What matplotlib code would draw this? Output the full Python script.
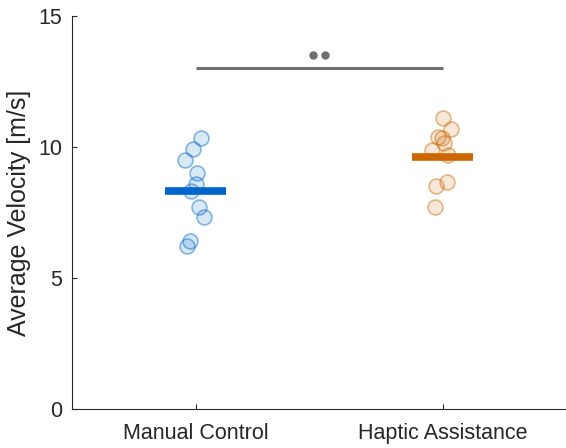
import matplotlib
matplotlib.use("Agg")
import matplotlib.pyplot as plt
import numpy as np

plt.rcParams['font.family'] = ['Liberation Sans', 'DejaVu Sans']

categories = ["Manual Control", "Haptic Assistance"]
manual_vals = [10.33, 9.91, 9.49, 9.02, 8.58, 8.33, 7.72, 7.34, 6.42, 6.22]
manual_jitter = [0.024, -0.009, -0.041, 0.008, 0.0, -0.02, 0.016, 0.033, -0.024, -0.033]
haptic_vals = [11.09, 10.67, 10.40, 10.35, 10.14, 9.89, 9.69, 8.65, 8.52, 7.70]
haptic_jitter = [0.0, 0.035, -0.02, -0.004, 0.008, -0.043, 0.024, 0.019, -0.025, -0.032]
means = [8.31, 9.63]
sig_y = 13.0
sig_label_y = 13.5
yticks = [0, 5, 10, 15]

colors = ["#0066cc", "#cc6600"]
text_col = "#262626"

fig = plt.figure(figsize=(5.66, 4.48), dpi=100)
ax = fig.add_axes([72/566, 39/448, 494/566, 393/448])

groups = [(manual_vals, manual_jitter), (haptic_vals, haptic_jitter)]
for i, ((vals, jit), c) in enumerate(zip(groups, colors)):
    xc = i + 1
    ax.plot([xc - 0.125, xc + 0.125], [means[i], means[i]], color=c, lw=5.5,
            solid_capstyle='butt', zorder=2)
    xs = np.array(jit) + xc
    ax.scatter(xs, vals, s=115, facecolors=matplotlib.colors.to_rgba(c, 0.15),
               edgecolors=matplotlib.colors.to_rgba(c, 0.45), linewidths=1.2, zorder=3)

# significance
ax.plot([1, 2], [sig_y, sig_y], color="#6e6e6e", lw=2.2, solid_capstyle='butt', zorder=2)
ax.plot([1.475, 1.525], [sig_label_y, sig_label_y], ls='none', marker='o',
        markersize=5, color="#6e6e6e")

ax.set_xlim(0.5, 2.5)
ax.set_ylim(0, 15)
ax.set_xticks([1, 2])
ax.set_xticklabels(categories)
ax.set_yticks(yticks)
ax.set_yticklabels([str(t) for t in yticks])
for s in ['top', 'right']:
    ax.spines[s].set_visible(False)
for s in ['left', 'bottom']:
    ax.spines[s].set_color(text_col)
    ax.spines[s].set_linewidth(0.8)
ax.tick_params(direction='in', length=3.5, width=0.8, colors=text_col,
               labelsize=15.5)
ax.tick_params(axis='x', pad=10)
ax.tick_params(axis='y', pad=7)
ax.set_ylabel("Average Velocity [m/s]", fontsize=18, color=text_col)
ax.yaxis.set_label_coords(-0.083, 0.5)
ax.yaxis.label.set_va('bottom')

fig.savefig("out.png", dpi=100)
